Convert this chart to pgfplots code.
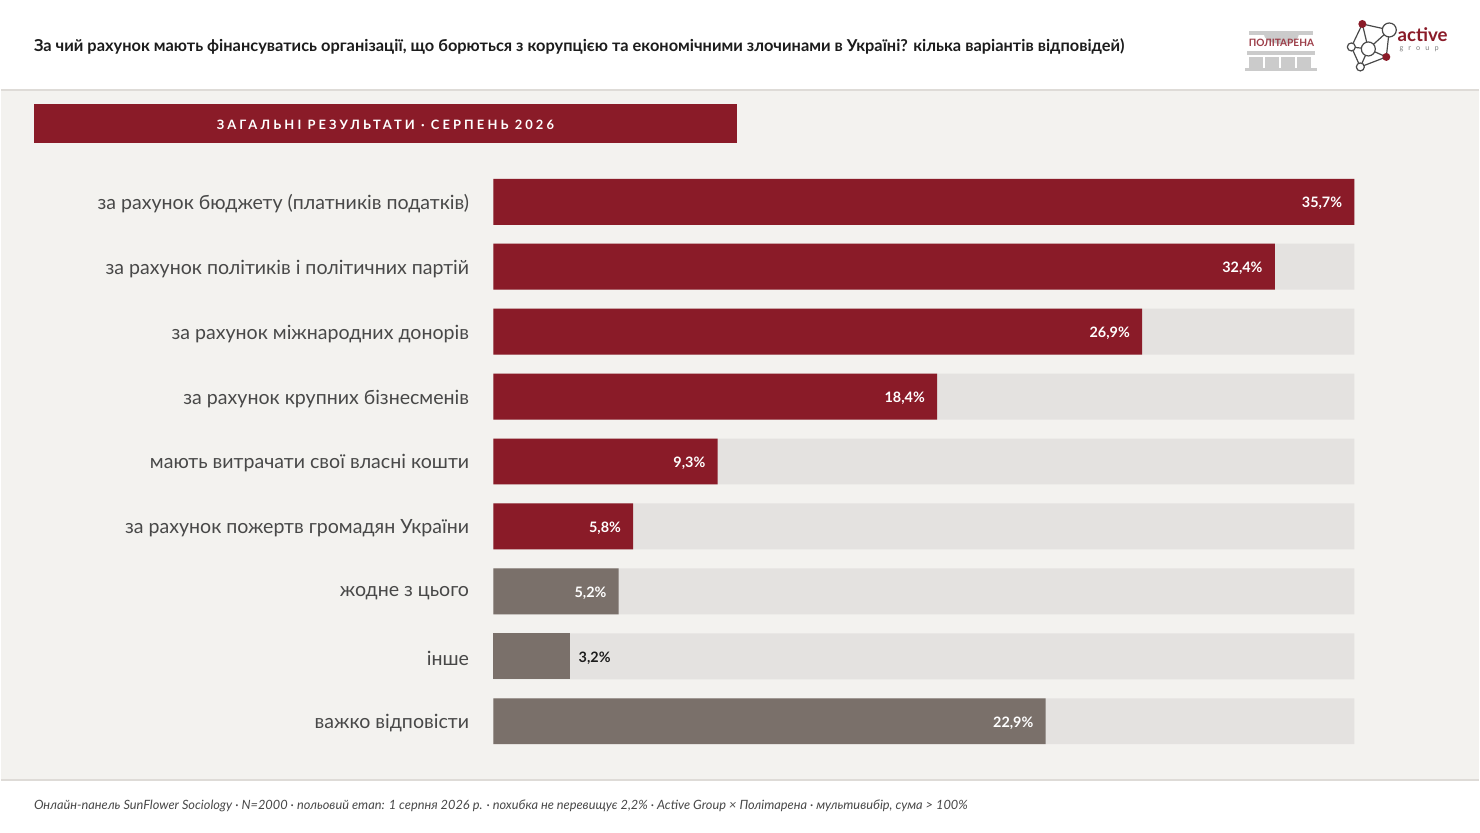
\documentclass[border=0pt]{standalone}
\usepackage{fontspec}
\setmainfont{Lato}
\usepackage{pgfplots}
\pgfplotsset{compat=1.18}
\definecolor{bg}{HTML}{F3F2EF}
\definecolor{track}{HTML}{E4E2E0}
\definecolor{wine}{HTML}{8A1B28}
\definecolor{taupe}{HTML}{7A706A}
\definecolor{txt}{HTML}{484848}
\definecolor{dark}{HTML}{1C1C1C}
\definecolor{rule}{HTML}{DEDBD7}
\definecolor{logogray}{HTML}{CBCBCB}
\begin{document}
\begin{tikzpicture}[x=0.75pt,y=-0.75pt]
% page and bands (px coordinates)
\fill[white] (0,0) rectangle (1480,833);
\fill[bg] (0,90) rectangle (1480,781);
\draw[rule, line width=1.2pt] (0,90) -- (1480,90);
\draw[rule, line width=1.2pt] (0,781) -- (1480,781);
% title
\node[anchor=west, inner sep=0pt, text=dark, font=\fontsize{12.3pt}{14pt}\selectfont\bfseries] at (33,47)
 {За чий рахунок мають фінансуватись організації, що борються з корупцією та економічними злочинами в Україні? кілька варіантів відповідей)};
% banner
\fill[wine] (33,104) rectangle (737,143);
\node[inner sep=0pt, text=white, font=\fontsize{9.7pt}{11pt}\selectfont\bfseries\addfontfeature{LetterSpace=24}] at (385,124.5)
 {ЗАГАЛЬНІ РЕЗУЛЬТАТИ · СЕРПЕНЬ 2026};
% Politarena logo
\fill[logogray] (1264,33) arc (180:0:18 and 11) -- cycle;
\fill[logogray] (1250,31) rectangle (1314,35);
\fill[logogray] (1248,51) rectangle (1316,55);
\foreach \cx in {1250,1266,1282,1298}{\fill[logogray] (\cx,57) rectangle ++(14,12);}
\fill[logogray] (1246,68) rectangle (1318,71);
\node[inner sep=0pt, text=wine!85, font=\fontsize{7.6pt}{8pt}\selectfont\bfseries] at (1282,43) {ПОЛІТАРЕНА};
% active group logo
\draw[dark!80, line width=0.9pt] (1363,24) -- (1390,30) -- (1369,49) -- (1363,24);
\draw[dark!80, line width=0.9pt] (1363,24) -- (1352,47) -- (1361,67) -- (1387,57) -- (1390,30);
\draw[dark!80, line width=0.9pt] (1352,47) -- (1369,49) -- (1387,57);
\draw[dark!80, line width=0.9pt] (1369,49) -- (1361,67);
\fill[wine] (1363,24) circle (4);
\fill[wine] (1387,57) circle (4);
\filldraw[fill=white, draw=dark!80, line width=0.9pt] (1390,30) circle (7);
\filldraw[fill=white, draw=dark!80, line width=0.9pt] (1369,49) circle (7);
\filldraw[fill=white, draw=dark!80, line width=0.9pt] (1352,47) circle (4);
\filldraw[fill=white, draw=dark!80, line width=0.9pt] (1361,67) circle (4);
\node[anchor=west, inner sep=0pt, text=wine, font=\fontsize{14pt}{15pt}\selectfont\bfseries] at (1398,35) {active};
\node[anchor=west, inner sep=0pt, text=gray, font=\fontsize{5.5pt}{6pt}\selectfont\addfontfeature{LetterSpace=70}] at (1400,49) {group};
% footer
\node[anchor=west, inner sep=0pt, text=txt, font=\fontsize{9.6pt}{11pt}\selectfont\itshape] at (33,807)
 {Онлайн-панель SunFlower Sociology · N=2000 · польовий етап: 1 серпня 2026 р. · похибка не перевищує 2,2\% · Active Group × Політарена · мультивибір, сума > 100\%};
\begin{axis}[
  at={(369.75pt,-127.125pt)}, anchor=north west,
  scale only axis, width=646.5pt, height=438.75pt,
  xmin=0, xmax=35.7, ymin=-0.5, ymax=8.5, y dir=reverse,
  axis line style={draw=none}, major tick length=0pt,
  xtick=\empty, ytick={0,...,8},
  yticklabels={за рахунок бюджету (платників податків),за рахунок політиків і політичних партій,за рахунок міжнародних донорів,за рахунок крупних бізнесменів,мають витрачати свої власні кошти,за рахунок пожертв громадян України,жодне з цього,інше,важко відповісти},
  yticklabel style={inner sep=0pt, anchor=east, xshift=-18pt, yshift=-1.5pt, text=txt, font=\fontsize{14.7pt}{16pt}\selectfont},
  clip=false,
  every axis plot/.append style={xbar, bar width=34.5pt, bar shift=0pt, draw=none},
  point meta=x,
  nodes near coords={\pgfmathprintnumber[fixed,fixed zerofill,precision=1,use comma,assume math mode=true]{\pgfplotspointmeta}\%},
  nodes near coords style={font=\fontsize{10.8pt}{12pt}\selectfont\bfseries, inner sep=0pt, yshift=-1.3pt},
]
\addplot[fill=track, nodes near coords=\relax] coordinates {(35.7,0) (35.7,1) (35.7,2) (35.7,3) (35.7,4) (35.7,5) (35.7,6) (35.7,7) (35.7,8)};
\addplot[fill=wine, nodes near coords style={anchor=east, xshift=-9pt, text=white}] coordinates {(35.7,0) (32.4,1) (26.9,2) (18.4,3) (9.3,4) (5.8,5)};
\addplot[fill=taupe, nodes near coords style={anchor=east, xshift=-9pt, text=white}] coordinates {(5.2,6) (22.9,8)};
\addplot[fill=taupe, nodes near coords style={anchor=west, xshift=6pt, text=dark}] coordinates {(3.2,7)};
\end{axis}
\end{tikzpicture}
\end{document}
